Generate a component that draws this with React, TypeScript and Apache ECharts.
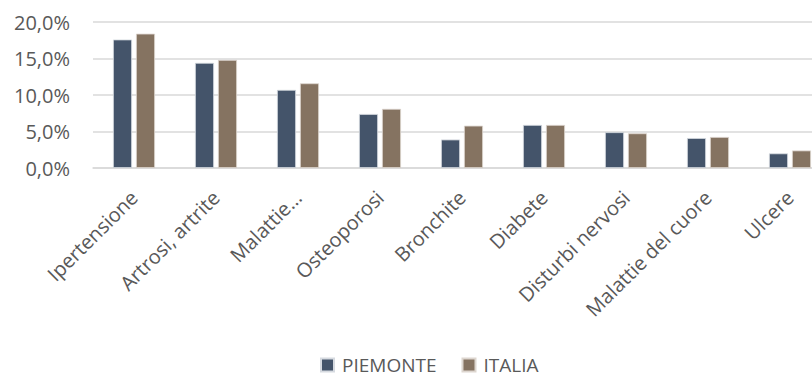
import React, { useEffect, useRef } from "react";
import * as echarts from "echarts";

const categories = [
  "Ipertensione",
  "Artrosi, artrite",
  "Malattie…",
  "Osteoporosi",
  "Bronchite",
  "Diabete",
  "Disturbi nervosi",
  "Malattie del cuore",
  "Ulcere",
];

const piemonte = [17.6, 14.4, 10.7, 7.4, 3.9, 5.9, 4.9, 4.1, 2.0];
const italia = [18.4, 14.8, 11.6, 8.1, 5.8, 5.9, 4.75, 4.25, 2.4];

const yTicks = [0, 5, 10, 15, 20];

const FONT = "'Open Sans', sans-serif";
const TEXT = "#595959";

// The chart canvas is wider than the visible frame; the last group runs past the right edge.
const CANVAS_W = 840;
const VIEW_W = 812;
const VIEW_H = 378;

export default function App() {
  const ref = useRef<HTMLDivElement>(null);

  useEffect(() => {
    document.body.style.margin = "0";
    const chart = echarts.init(ref.current!, null, { renderer: "svg" });
    chart.setOption({
      animation: false,
      backgroundColor: "#ffffff",
      textStyle: { fontFamily: FONT },
      grid: { left: 93, right: 9, top: 22, bottom: 210, containLabel: false },
      legend: {
        data: ["PIEMONTE", "ITALIA"],
        top: 355,
        left: 320,
        padding: 0,
        itemWidth: 13,
        itemHeight: 13,
        itemGap: 25,
        icon: "rect",
        textStyle: {
          color: TEXT,
          fontSize: 19,
          lineHeight: 20,
          fontFamily: FONT,
          padding: [0, 0, 0, 3],
        },
      },
      xAxis: {
        type: "category",
        data: categories,
        axisLine: { lineStyle: { color: "#D9D9D9", width: 1.5 } },
        axisTick: { show: false },
        axisLabel: {
          rotate: 45,
          interval: 0,
          margin: 26,
          color: TEXT,
          fontSize: 20,
          fontFamily: FONT,
        },
      },
      yAxis: {
        type: "value",
        min: yTicks[0],
        max: yTicks[yTicks.length - 1],
        interval: 5,
        axisLine: { show: false },
        axisTick: { show: false },
        splitLine: { lineStyle: { color: "#D9D9D9", width: 1.5 } },
        axisLabel: {
          margin: 23,
          color: TEXT,
          fontSize: 20,
          fontFamily: FONT,
          formatter: (v: number) => v.toFixed(1).replace(".", ",") + "%",
        },
      },
      series: [
        {
          name: "PIEMONTE",
          type: "bar",
          data: piemonte,
          barWidth: 19,
          barGap: "21%",
          itemStyle: { color: "#44546A", borderColor: "#D6DAE0", borderWidth: 0.8 },
        },
        {
          name: "ITALIA",
          type: "bar",
          data: italia,
          barWidth: 19,
          itemStyle: { color: "#857361", borderColor: "#DDD6CF", borderWidth: 0.8 },
        },
      ],
    });
    return () => chart.dispose();
  }, []);

  return (
    <div style={{ width: VIEW_W, height: VIEW_H, overflow: "hidden", position: "relative" }}>
      <div ref={ref} style={{ width: CANVAS_W, height: VIEW_H }} />
    </div>
  );
}
